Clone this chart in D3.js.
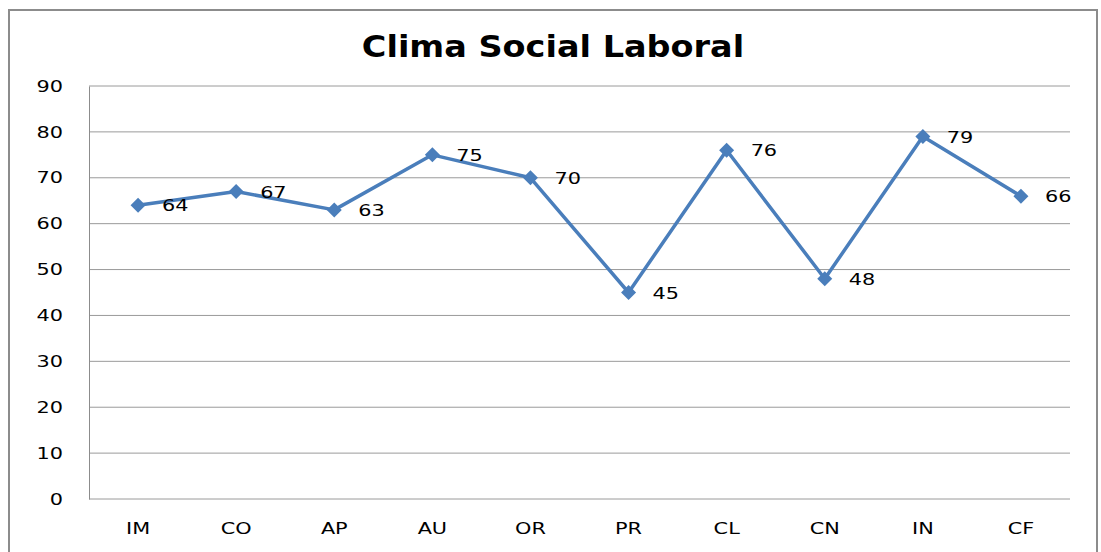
<!DOCTYPE html>
<html>
<head>
<meta charset="utf-8">
<script src="https://cdn.jsdelivr.net/npm/d3@7"></script>
<style>
  body { margin: 0; background: #fff; }
  svg { display: block; font-family: "DejaVu Sans", Verdana, sans-serif; }
</style>
</head>
<body>
<svg id="chart"></svg>
<script>
// data
const categories = ["IM", "CO", "AP", "AU", "OR", "PR", "CL", "CN", "IN", "CF"];
const values = [64, 67, 63, 75, 70, 45, 76, 48, 79, 66];
const yTicks = [0, 10, 20, 30, 40, 50, 60, 70, 80, 90];

const W = 1101, H = 552;
const margin = { top: 86, right: 31, bottom: 53, left: 89 };
const width = W - margin.left - margin.right;
const height = H - margin.top - margin.bottom;

// the original text is a bit wider than DejaVu, stretch it sideways
function stretch(sel, k) {
  sel.each(function() {
    const len = this.getComputedTextLength();
    this.setAttribute("textLength", len * k);
    this.setAttribute("lengthAdjust", "spacingAndGlyphs");
  });
}

const svg = d3.select("#chart").attr("width", W).attr("height", H);

// outer frame
svg.append("rect")
  .attr("x", 9).attr("y", 10)
  .attr("width", 1088).attr("height", 560)
  .attr("fill", "none")
  .attr("stroke", "#8c8c8c")
  .attr("stroke-width", 2);

// title
svg.append("text")
  .attr("x", 553).attr("y", 57)
  .attr("text-anchor", "middle")
  .style("font-size", "31px")
  .style("font-weight", "bold")
  .style("fill", "#000")
  .text("Clima Social Laboral")
  .call(stretch, 1.08);

const chart = svg.append("g")
  .attr("transform", `translate(${margin.left},${margin.top})`);

const x = d3.scaleBand().domain(categories).range([0, width]);
const y = d3.scaleLinear().domain([0, 90]).range([height, 0]);

// gridlines
chart.append("g")
  .selectAll("line")
  .data(yTicks)
  .join("line")
  .attr("x1", 0).attr("x2", width)
  .attr("y1", d => y(d)).attr("y2", d => y(d))
  .attr("stroke", "#9a9a9a")
  .attr("stroke-width", 1);

// y axis
const yAxis = d3.axisLeft(y).tickValues(yTicks).tickSize(0).tickPadding(26);
chart.append("g")
  .attr("class", "y-axis")
  .call(yAxis)
  .call(g => g.select(".domain").attr("stroke", "#8c8c8c"))
  .selectAll("text")
  .style("font-size", "16px")
  .style("fill", "#000")
  .style("font-family", "DejaVu Sans, sans-serif")
  .call(stretch, 1.3);

// x axis labels
const xAxis = d3.axisBottom(x).tickSize(0).tickPadding(24);
chart.append("g")
  .attr("class", "x-axis")
  .attr("transform", `translate(0,${height})`)
  .call(xAxis)
  .call(g => g.select(".domain").remove())
  .selectAll("text")
  .style("font-size", "16px")
  .style("fill", "#000")
  .style("font-family", "DejaVu Sans, sans-serif")
  .call(stretch, 1.3);

const cx = d => x(d) + x.bandwidth() / 2;
const pts = categories.map((c, i) => ({ c: c, v: values[i] }));

// line
chart.append("path")
  .datum(pts)
  .attr("fill", "none")
  .attr("stroke", "#4a7ebb")
  .attr("stroke-width", 3.5)
  .attr("stroke-linejoin", "round")
  .attr("d", d3.line().x(d => cx(d.c)).y(d => y(d.v)));

// diamond markers
chart.append("g")
  .selectAll("path")
  .data(pts)
  .join("path")
  .attr("transform", d => `translate(${cx(d.c)},${y(d.v)})`)
  .attr("d", "M0,-7.5L7.5,0L0,7.5L-7.5,0Z")
  .attr("fill", "#4a7ebb");

// value labels
chart.append("g")
  .selectAll("text")
  .data(pts)
  .join("text")
  .attr("x", d => cx(d.c) + 24)
  .attr("y", d => y(d.v))
  .attr("dy", "0.38em")
  .style("font-size", "16px")
  .style("fill", "#000")
  .text(d => d.v)
  .call(stretch, 1.3);
</script>
</body>
</html>
